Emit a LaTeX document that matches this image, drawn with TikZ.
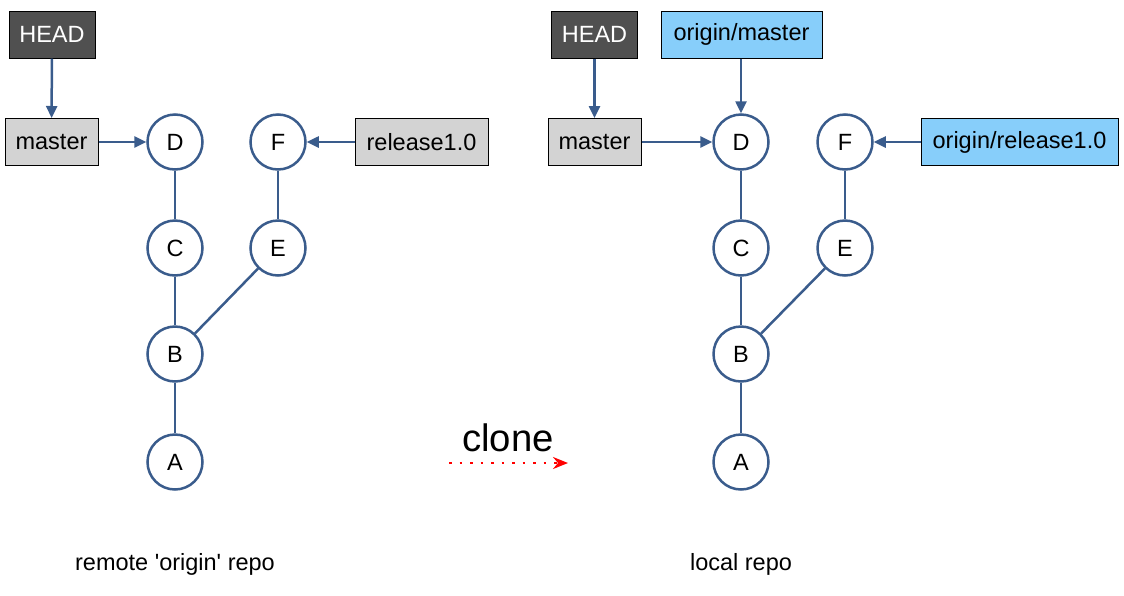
\documentclass[tikz,border=0pt]{standalone}
\usepackage{fontspec}
\setmainfont{Liberation Sans}
\newfontfamily\plainsans{Liberation Sans}
\usetikzlibrary{arrows.meta}
\definecolor{edgec}{HTML}{3A5C8C}
\definecolor{headc}{HTML}{505050}
\definecolor{branchc}{HTML}{D3D3D3}
\definecolor{remotec}{HTML}{87CEFA}
\tikzset{
  commit/.style={circle, draw=edgec, line width=2.5pt, fill=white, minimum size=55pt, inner sep=0pt, font=\fontsize{23.5}{26}\selectfont},
  box/.style={draw=black, line width=1pt, minimum height=47pt, inner sep=0pt, font=\fontsize{23.5}{26}\selectfont},
  headbox/.style={box, fill=headc, text=white},
  branchbox/.style={box, fill=branchc},
  remotebox/.style={box, fill=remotec},
  link/.style={draw=edgec, line width=2.5pt},
  ptr/.style={link, -{Triangle[length=12pt,width=11pt]}},
  caption/.style={font=\plainsans\fontsize{23.5}{26}\selectfont},
}
\begin{document}
\begin{tikzpicture}[x=1pt,y=-1pt]
\useasboundingbox (0,0) rectangle (1124,595);
% left repo
\node[headbox, minimum width=86pt] (lhead) at (52,34.5) {HEAD};
\node[branchbox, minimum width=93pt] (lmaster) at (51.5,142) {master};
\node[branchbox, minimum width=133pt] (lrel) at (421.5,142) {release1.0};
\node[commit] (lD) at (175,142) {D};
\node[commit] (lF) at (278,142) {F};
\node[commit] (lC) at (175,248) {C};
\node[commit] (lE) at (278,248) {E};
\node[commit] (lB) at (175,354) {B};
\node[commit] (lA) at (175,462) {A};
\draw[link] (lD) -- (lC);
\draw[link] (lF) -- (lE);
\draw[link] (lC) -- (lB);
\draw[link] (lE) -- (lB);
\draw[link] (lB) -- (lA);
\draw[ptr] (lhead) -- (lmaster);
\draw[ptr] (lmaster) -- (lD);
\draw[ptr] (lrel) -- (lF);
\node[caption] (lcap) at (175,564) {remote 'origin' repo};
% right repo
\node[headbox, minimum width=86pt] (rhead) at (594.5,34.5) {HEAD};
\node[remotebox, minimum width=161pt] (rorigm) at (741.5,34.5) {origin/master};
\node[branchbox, minimum width=93pt] (rmaster) at (594.5,142) {master};
\node[remotebox, minimum width=197pt] (rrel) at (1019.5,142) {origin/release1.0};
\node[commit] (rD) at (741,142) {D};
\node[commit] (rF) at (845,142) {F};
\node[commit] (rC) at (741,248) {C};
\node[commit] (rE) at (845,248) {E};
\node[commit] (rB) at (741,354) {B};
\node[commit] (rA) at (741,462) {A};
\draw[link] (rD) -- (rC);
\draw[link] (rF) -- (rE);
\draw[link] (rC) -- (rB);
\draw[link] (rE) -- (rB);
\draw[link] (rB) -- (rA);
\draw[ptr] (rhead) -- (rmaster);
\draw[ptr] (rmaster) -- (rD);
\draw[ptr] (rorigm.south -| rD) -- (rD);
\draw[ptr] (rrel) -- (rF);
\node[caption] (rcap) at (741,564) {local repo};
% clone
\node[font=\fontsize{38.3}{42}\selectfont] (clonet) at (508,438) {clone};
\coordinate (cs) at (449,463);
\coordinate (ce) at (568,463);
\draw[red, line width=2.5pt, dash pattern=on 2.5pt off 8pt, -{Stealth[length=15pt,width=12pt,inset=5pt]}] (cs) -- (ce);
\end{tikzpicture}
\end{document}
